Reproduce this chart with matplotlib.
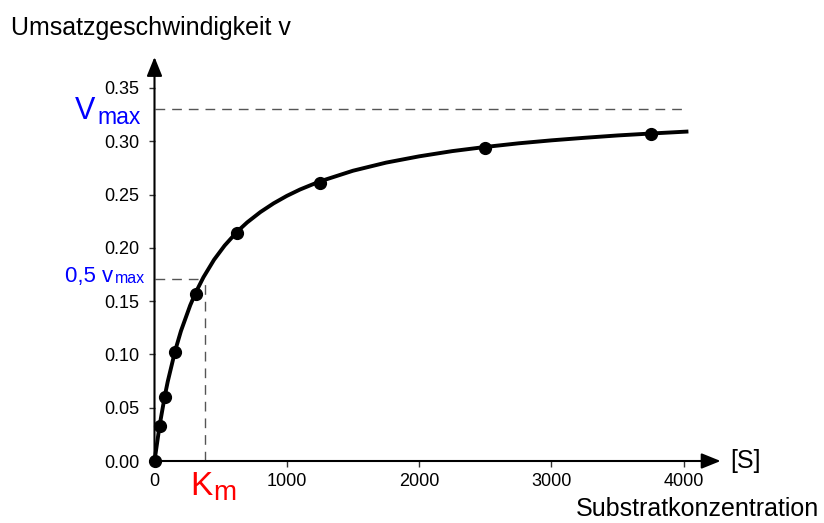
import numpy as np
import matplotlib
matplotlib.use("Agg")
from matplotlib import pyplot as plt

plt.rcParams['font.family'] = ['Liberation Sans', 'DejaVu Sans']

# measured points: substrate concentration [S] and reaction rate v
s_conc = [0, 39, 78, 156, 312.5, 625, 1250, 2500, 3750]
v_rate = [0.0, 0.033, 0.060, 0.102, 0.157, 0.214, 0.261, 0.294, 0.307]

# fitted curve
curve_s = [0, 39, 78, 100, 156, 200, 270, 312.5, 370, 450, 530, 625, 700, 800,
           900, 1000, 1100, 1250, 1500, 1750, 2000, 2250, 2500, 2750, 3000,
           3250, 3500, 3750, 4020]
curve_v = [0.0, 0.0336, 0.0611, 0.0745, 0.1034, 0.1220, 0.1461, 0.1583, 0.1724,
           0.1888, 0.2021, 0.2152, 0.2238, 0.2335, 0.2417, 0.2487, 0.2547,
           0.2623, 0.2723, 0.2799, 0.2858, 0.2907, 0.2946, 0.2980, 0.3008,
           0.3032, 0.3054, 0.3072, 0.3090]

v_max = 0.33
v_max_end = 3990
half_v = 0.171
k_m = 385

x_ticks = [0, 1000, 2000, 3000, 4000]
y_ticks = [0.0, 0.05, 0.10, 0.15, 0.20, 0.25, 0.30, 0.35]

W, H = 824, 523


def px(x, y):
    """Pixel position (from top left) to figure fraction."""
    return x / W, 1 - y / H


fig = plt.figure(figsize=(W / 100, H / 100), dpi=100)
ax = fig.add_axes([154.5 / W, 62 / H, 4300 * 0.13233 / W, 0.385 * 1066 / H])
ax.set_xlim(0, 4300)
ax.set_ylim(0, 0.385)

for side in ['top', 'right', 'left', 'bottom']:
    ax.spines[side].set_visible(False)

# axes with arrows
arrow = dict(arrowstyle='-|>,head_length=0.58,head_width=0.235', lw=1.5,
             color='black', shrinkA=0, shrinkB=0, mutation_scale=20)
ax.annotate('', xy=(0, 0.379), xytext=(0, 0), arrowprops=arrow)
ax.annotate('', xy=(4278, 0), xytext=(-10, 0), arrowprops=arrow)

# dashed helper lines
dash = dict(color='#555555', lw=1, linestyle=(0, (7, 5)))
ax.plot([0, v_max_end], [v_max, v_max], **dash)
ax.plot([0, k_m], [half_v, half_v], **dash)
ax.plot([k_m, k_m], [0, half_v], **dash)

# curve and points
ax.plot(curve_s, curve_v, color='black', lw=2.8, zorder=4, clip_on=False,
        solid_joinstyle='round')
ax.plot(s_conc, v_rate, 'o', color='black', ms=8.5, zorder=5, clip_on=False)

ax.set_xticks(x_ticks)
ax.set_xticklabels([str(t) for t in x_ticks])
ax.set_yticks(y_ticks)
ax.set_yticklabels([f"{t:.2f}" for t in y_ticks])
ax.tick_params(direction='out', length=4, width=1, labelsize=13, color='#333333')
ax.tick_params(axis='y', pad=7)
ax.tick_params(axis='x', pad=5)

# texts
fig.text(*px(11, 35), 'Umsatzgeschwindigkeit v', fontsize=18, va='baseline', ha='left')
fig.text(*px(819, 516), 'Substratkonzentration', fontsize=18, va='baseline', ha='right')
fig.text(*px(730, 468), '[S]', fontsize=18, va='baseline', ha='left')

fig.text(*px(75, 119), 'V', fontsize=22, color='#0000ff', va='baseline', ha='left')
fig.text(*px(97, 124), 'max', fontsize=16.5, color='#0000ff', va='baseline', ha='left')

fig.text(*px(65, 282), '0,5 v', fontsize=16, color='#0000ff', va='baseline', ha='left')
fig.text(*px(115, 283), 'max', fontsize=11.5, color='#0000ff', va='baseline', ha='left')

fig.text(*px(190, 495), 'K', fontsize=24, color='#ff0000', va='baseline', ha='left')
fig.text(*px(213, 500), 'm', fontsize=20, color='#ff0000', va='baseline', ha='left')

fig.savefig('out.png', dpi=100)
